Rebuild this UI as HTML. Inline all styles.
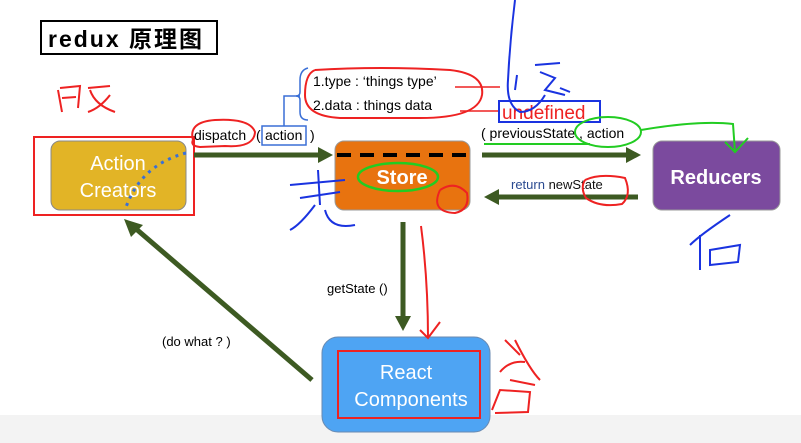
<!DOCTYPE html>
<html><head><meta charset="utf-8"><style>
body{margin:0;background:#fff;}
svg{display:block;font-family:"Liberation Sans","Noto Sans CJK SC",sans-serif;}
</style></head><body>
<svg width="801" height="443" viewBox="0 0 801 443" xmlns="http://www.w3.org/2000/svg">
<rect x="0" y="0" width="801" height="443" fill="#fff"/>
<rect x="0" y="415" width="801" height="28" fill="#f3f3f3"/>
<!-- title -->
<rect x="41" y="21" width="176" height="33" fill="#fff" stroke="#000" stroke-width="2"/>
<text x="48" y="47" font-size="23" font-weight="bold" letter-spacing="2">redux 原理图</text>
<!-- nodes -->
<rect x="51" y="141" width="135" height="69" rx="9" fill="#e2b426" stroke="#888" stroke-width="1"/>
<text x="118" y="170" font-size="20" fill="#fff" text-anchor="middle">Action</text>
<text x="118" y="197" font-size="20" fill="#fff" text-anchor="middle">Creators</text>
<rect x="34" y="137" width="160" height="78" fill="none" stroke="#e22" stroke-width="2"/>
<path d="M186 153 Q140 165 125 210" fill="none" stroke="#3a6fd6" stroke-width="3" stroke-dasharray="3 5"/>

<rect x="335" y="141" width="135" height="69" rx="9" fill="#e8730f" stroke="#999"/>
<line x1="337" y1="155" x2="470" y2="155" stroke="#000" stroke-width="4" stroke-dasharray="14 9"/>
<text x="402" y="184" font-size="20" font-weight="bold" fill="#fff" text-anchor="middle">Store</text>
<ellipse cx="398" cy="177" rx="40" ry="14" fill="none" stroke="#2c2" stroke-width="2.5"/>
<path d="M440 190 Q430 212 455 213 Q470 210 467 193 Q455 180 440 190" fill="none" stroke="#e22" stroke-width="2"/>

<rect x="653" y="141" width="127" height="69" rx="9" fill="#7b4a9e" stroke="#999"/>
<text x="716" y="184" font-size="20" font-weight="bold" fill="#fff" text-anchor="middle">Reducers</text>

<rect x="322" y="337" width="168" height="95" rx="16" fill="#4ea4f3" stroke="#6a8ab0"/>
<rect x="338" y="351" width="142" height="67" fill="none" stroke="#e22" stroke-width="2"/>
<text x="406" y="379" font-size="20" fill="#fff" text-anchor="middle">React</text>
<text x="411" y="406" font-size="20" fill="#fff" text-anchor="middle">Components</text>

<!-- arrows -->
<g fill="#3d5a22" stroke="#3d5a22">
<line x1="194" y1="155" x2="320" y2="155" stroke-width="5"/>
<polygon points="318,147 333,155 318,163" stroke="none"/>
<line x1="482" y1="155" x2="628" y2="155" stroke-width="5"/>
<polygon points="626,147 641,155 626,163" stroke="none"/>
<line x1="638" y1="197" x2="497" y2="197" stroke-width="5"/>
<polygon points="499,189 484,197 499,205" stroke="none"/>
<line x1="403" y1="222" x2="403" y2="318" stroke-width="5"/>
<polygon points="395,316 403,331 411,316" stroke="none"/>
<line x1="312" y1="380" x2="135" y2="228" stroke-width="5"/>
<polygon points="124,219 143,225 131,237" stroke="none"/>
</g>

<!-- labels -->
<text x="194" y="140" font-size="14">dispatch</text>
<text x="256" y="140" font-size="14">(</text>
<rect x="262" y="126" width="44" height="19" fill="none" stroke="#3a6fd6" stroke-width="1.5"/>
<text x="265" y="140" font-size="14">action</text>
<text x="310" y="140" font-size="14">)</text>
<path d="M193 140 Q188 122 215 120 Q250 118 255 132 Q254 148 225 146 L200 147 Q190 146 193 140" fill="none" stroke="#e22" stroke-width="2"/>
<path d="M284 126 L284 96 L300 96" fill="none" stroke="#3a6fd6" stroke-width="1.5"/>
<path d="M308 68 Q300 70 300 80 L300 92 Q300 96 296 96 Q300 96 300 100 L300 112 Q300 120 308 120" fill="none" stroke="#3a6fd6" stroke-width="1.5"/>
<text x="313" y="86" font-size="14">1.type : ‘things type’</text>
<text x="313" y="110" font-size="14">2.data :  things data</text>
<path d="M315 70 Q380 66 450 70 Q485 74 482 95 Q478 118 420 118 L340 118 Q305 116 305 95 Q305 74 315 70" fill="none" stroke="#e22" stroke-width="2"/>
<line x1="455" y1="87" x2="500" y2="87" stroke="#e22" stroke-width="1.5"/>
<line x1="460" y1="111" x2="500" y2="111" stroke="#e22" stroke-width="1.5"/>
<rect x="499" y="101" width="101" height="21" fill="none" stroke="#1a33e0" stroke-width="2"/>
<text x="502" y="119" font-size="19" fill="#e22">undefined</text>
<text x="481" y="138" font-size="14">( previousState , action</text>
<line x1="484" y1="144" x2="590" y2="144" stroke="#2c2" stroke-width="2"/>
<ellipse cx="608" cy="132" rx="33" ry="15" fill="none" stroke="#2c2" stroke-width="2"/>
<path d="M641 130 Q700 120 733 124 L735 152 M725 142 L735 152 L748 138" fill="none" stroke="#2c2" stroke-width="2"/>
<text x="511" y="189" font-size="13" fill="#2a4a90">return <tspan fill="#111">newState</tspan></text>
<path d="M585 180 Q600 173 625 178 Q632 195 622 204 Q600 208 586 198 Q580 188 585 180" fill="none" stroke="#e22" stroke-width="2"/>
<text x="327" y="293" font-size="13">getState ()</text>
<text x="162" y="346" font-size="13">(do what ? )</text>

<!-- scribbles -->
<path d="M515 0 Q510 40 508 80 Q506 105 520 112 Q535 112 545 95" fill="none" stroke="#1a33e0" stroke-width="2"/>
<path d="M517 75 L515 90 M535 65 L560 63 M540 72 L555 78 L545 90 L565 95 M560 88 L570 92" fill="none" stroke="#1a33e0" stroke-width="2"/>
<path d="M58 90 L62 112 M60 88 L80 86 L78 108 M62 98 L76 97 M88 88 L110 86 M90 90 Q95 105 115 112 M110 95 Q100 108 88 112" fill="none" stroke="#e22" stroke-width="2"/>
<path d="M290 185 L345 180 M318 170 L320 205 M300 198 L340 192 M315 205 Q300 225 290 230 M325 210 Q330 230 355 225" fill="none" stroke="#1a33e0" stroke-width="2"/>
<path d="M730 215 Q700 235 690 245 M700 235 L700 270 M710 250 L740 245 L738 262 L710 265 Z" fill="none" stroke="#1a33e0" stroke-width="2"/>
<path d="M421 226 Q428 280 428 338 M420 330 L428 338 L440 322" fill="none" stroke="#e22" stroke-width="2"/>
<path d="M505 340 L520 355 M515 340 Q530 370 540 380 M500 372 Q510 360 525 362 M492 410 L500 390 L530 392 L528 412 L495 413 M510 380 L535 385" fill="none" stroke="#e22" stroke-width="2"/>
</svg>
</body></html>
